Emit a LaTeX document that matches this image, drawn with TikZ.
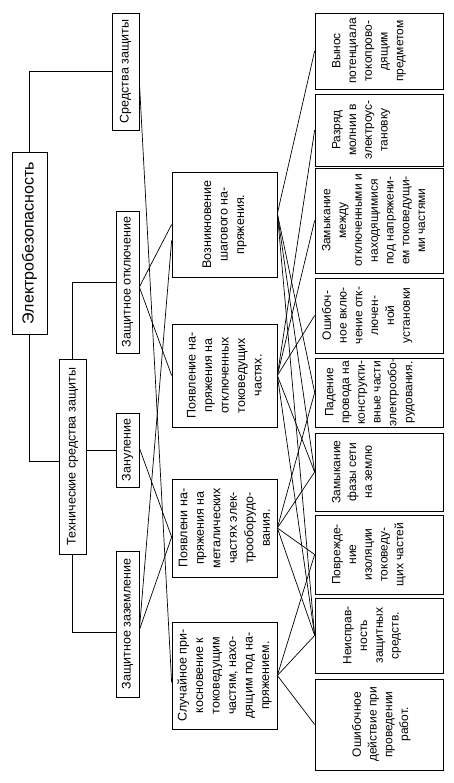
\documentclass[tikz,border=0pt]{standalone}
\usepackage{fontspec}
\setmainfont{Liberation Sans}
\usetikzlibrary{positioning}
\tikzset{
box/.style={draw, rectangle, inner sep=1pt, align=center, font=\fontsize{12.5}{15.5}\selectfont},
hazard/.style={box, minimum height=105pt, font=\fontsize{12.5}{16.5}\selectfont},
cause/.style={draw, rectangle, minimum height=128pt},
causetext/.style={inner sep=0pt, align=center, font=\fontsize{12}{15.8}\selectfont},
link/.style={line width=0.7pt},
}
\begin{document}
\begin{tikzpicture}[x=1pt, y=1pt, rotate=90, transform shape, line width=0.7pt]
\useasboundingbox (0,0) rectangle (783,-454);
% top of the tree
\node [box, minimum width=182pt, minimum height=35pt, font=\fontsize{16}{19}\selectfont] (root) at (540,-29.5) {Электробезопасность};
\node [box, minimum width=117pt, minimum height=27pt] (sred) at (711.5,-125.5) {Средства защиты};
\node [box, minimum width=195pt, minimum height=27pt] (tech) at (326.5,-72.5) {Технические средства защиты};
\node [box, minimum width=142pt, minimum height=23pt] (otkl) at (501,-127.5) {Защитное отключение};
\node [box, minimum width=74pt, minimum height=23pt] (zan) at (333,-127.5) {Зануление};
\node [box, minimum width=146pt, minimum height=23pt] (zaz) at (159,-127.5) {Защитное заземление};
% dangers
\node [hazard, minimum width=105pt] (vozn) at (558.5,-224.5) {Возникновение\\шагового на-\\пряжения.};
\node [hazard, minimum width=103pt] (poyav) at (407.5,-224.5) {Появление на-\\пряжения на\\отключенных\\токоведущих\\частях.};
\node [hazard, minimum width=98pt] (poyavm) at (255,-224.5) {Появлени на-\\пряжения на\\металических\\частях элек-\\трооборудо-\\вания.};
\node [hazard, minimum width=107pt] (sluch) at (107.5,-224.5) {Случайное при-\\косновение к\\токоведущим\\частям, нахо-\\дящим под на-\\пряжением.};
% causes
\node [cause, minimum width=76pt] (vynos) at (732,-379) {};
\node [cause, minimum width=72pt] (razr) at (653,-379) {};
\node [cause, minimum width=105pt] (zammezh) at (562.5,-379) {};
\node [cause, minimum width=75pt] (oshvkl) at (467.5,-379) {};
\node [cause, minimum width=69pt] (paden) at (390.5,-379) {};
\node [cause, minimum width=78pt] (zamfaz) at (311,-379) {};
\node [cause, minimum width=79pt] (povr) at (228.5,-379) {};
\node [cause, minimum width=75pt] (neispr) at (147.5,-379) {};
\node [cause, minimum width=91pt] (oshd) at (58.5,-379) {};
\node [causetext, below=17pt] (vynos-t) at (vynos.north) {Вынос\\потенциала\\токопрово-\\дящим\\предметом};
\node [causetext, below=17pt] (razr-t) at (razr.north) {Разряд\\молнии в\\электроус-\\тановку};
\node [causetext, below=7pt] (zammezh-t) at (zammezh.north) {Замыкание\\между\\отключенными и\\находящимися\\под напряжени-\\ем токоведущи-\\ми частями};
\node [causetext, below=7pt] (oshvkl-t) at (oshvkl.north) {Ошибоч-\\ное вклю-\\чение отк-\\лючен-\\ной\\установки};
\node [causetext, below=10pt] (paden-t) at (paden.north) {Падение\\провода на\\конструкти-\\вные части\\электрообо-\\рудования.};
\node [causetext, below=17pt] (zamfaz-t) at (zamfaz.north) {Замыкание\\фазы сети\\на землю};
\node [causetext, below=17pt] (povr-t) at (povr.north) {Поврежде-\\ние\\изоляции\\токоведу-\\щих частей};
\node [causetext, below=28pt] (neispr-t) at (neispr.north) {Неисправ-\\ность\\защитных\\средств.};
\node [causetext, below=37pt] (oshd-t) at (oshd.north) {Ошибочное\\действие при\\проведении\\работ.};
% tree lines
\draw (root.east) -| (sred.north);
\draw (root.west) -| ([xshift=-5pt]tech.north);
\draw (tech.east) -| (otkl.north);
\draw (tech.south -| zan.north) -- (zan.north);
\draw (tech.west) -| ([xshift=-8pt]zaz.north);
% means to dangers
\draw ([xshift=-10pt]sred.south) -- ([xshift=-7pt]sluch.north);
\draw ([xshift=-5pt]otkl.south) -- (vozn.north);
\draw ([xshift=-5pt]otkl.south) -- (poyav.north);
\draw ([xshift=2pt]zan.south) -- ([xshift=-9pt]poyavm.north);
\draw ([xshift=-6pt]zaz.south) -- ([xshift=-9pt]poyavm.north);
\draw ([xshift=-6pt]zaz.south) -- ([xshift=-16pt]vozn.north);
% dangers to causes
\coordinate (vozn-b) at ([xshift=11pt]vozn.south);
\draw (vozn-b) -- (vynos.north);
\draw (vozn-b) -- (paden.north);
\draw (vozn-b) -- (zamfaz.north);
\draw (vozn-b) -- (neispr.north);
\draw (poyav.south) -- (razr.north);
\draw (poyav.south) -- (zammezh.north);
\draw (poyav.south) -- (oshvkl.north);
\draw (poyav.south) -- (zamfaz.north);
\draw (poyav.south) -- (neispr.north);
\draw (poyavm.south) -- (paden.north);
\draw (poyavm.south) -- (zamfaz.north);
\draw (poyavm.south) -- (povr.north);
\draw (poyavm.south) -- (neispr.north);
\draw (sluch.south) -- (povr.north);
\draw (sluch.south) -- (neispr.north);
\draw (sluch.south) -- (oshd.north);
\end{tikzpicture}
\end{document}
